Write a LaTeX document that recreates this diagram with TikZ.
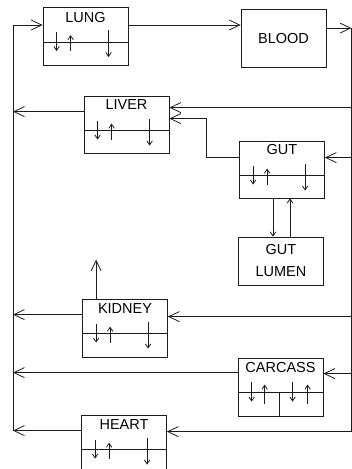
\documentclass[tikz,border=0pt]{standalone}
\usepackage{fontspec}
\setmainfont{Liberation Sans}
\usepackage{tikz}
\usetikzlibrary{calc,positioning,arrows.meta}
\usepackage{xcolor}
\definecolor{InkBlack}{HTML}{1C1C1C}
\tikzset{
  organ/.style={draw=InkBlack, line width=0.8pt, minimum width=85pt, minimum height=58pt, inner sep=0pt,
    font=\fontsize{14.5}{22}\selectfont},
  tag/.style={inner sep=0pt, font=\fontsize{14.5}{22}\selectfont},
  plainline/.style={draw=InkBlack, line width=0.8pt},
  flowline/.style={plainline, -{Straight Barb[length=10.5pt,width=10pt,line width=0.8pt]}},
  exch/.style={draw=InkBlack, line width=0.7pt, -{Straight Barb[length=4pt,width=5.5pt,line width=0.8pt]}},
}
% vascular / tissue split with exchange arrows
\newcommand{\splitbox}[1]{%
  \draw[plainline] ($(#1.north west)+(0,35)$) -- ($(#1.north east)+(0,35)$);
  \draw[exch] ($(#1.north west)+(14,25)$) -- ++(0,19);
  \draw[exch] ($(#1.north west)+(28,44)$) -- ++(0,-16);
  \draw[exch] ($(#1.north west)+(66,23)$) -- ++(0,27);
}

\begin{document}
\begin{tikzpicture}[x=1pt,y=-1pt]
  \clip (0,0) rectangle (352,469);
  % compartments
  \node[organ] (lung) at (85.5,36.5) {};
  \node[tag, below=5.5pt of lung.north] (lungtag) {LUNG};
  \node[organ] (blood) at (283.5,38.5) {BLOOD};
  \node[organ, minimum height=57pt] (liver) at (126.5,124.5) {};
  \node[tag, below=4pt of liver.north] (livertag) {LIVER};
  \node[organ, minimum height=57pt] (gut) at (282,169.5) {};
  \node[tag, below=4pt of gut.north] (guttag) {GUT};
  \node[organ, minimum height=48pt, align=center] (lumen) at (281,261) {GUT\\LUMEN};
  \node[organ] (kidney) at (125,328) {};
  \node[tag, below=5pt of kidney.north] (kidneytag) {KIDNEY};
  \node[organ] (carcass) at (280.5,387) {};
  \node[tag, below=5pt of carcass.north] (carcasstag) {CARCASS};
  \node[organ] (heart) at (124,444) {};
  \node[tag, below=5pt of heart.north] (hearttag) {HEART};
  % internal splits
  \splitbox{lung}
  \splitbox{liver}
  \splitbox{gut}
  \splitbox{kidney}
  \splitbox{heart}
  \draw[plainline] ($(carcass.north west)+(0,35)$) -- ($(carcass.north east)+(0,35)$);
  \draw[plainline] ($(carcass.north west)+(42,35)$) -- ($(carcass.south west)+(42,0)$);
  \draw[exch] ($(carcass.north west)+(14,24)$) -- ++(0,20);
  \draw[exch] ($(carcass.north west)+(27,46)$) -- ++(0,-19);
  \draw[exch] ($(carcass.north west)+(55,24)$) -- ++(0,20);
  \draw[exch] ($(carcass.north west)+(70,46)$) -- ++(0,-19);
  % venous return (left) and arterial supply (right)
  \coordinate (lbtop) at (13,25);
  \coordinate (lbbot) at ($(heart.north west)+(0,16)$);
  \coordinate (rbtop) at ($(blood.north east)+(25,19)$);
  \coordinate (rbbot) at ($(heart.north east)+(185,17)$);
  \draw[plainline] (lbtop) -- (lbtop |- lbbot);
  \draw[plainline] (rbtop) -- (rbtop |- rbbot);
  % lung - blood loop
  \draw[flowline] (lbtop) -- (lbtop -| lung.west);
  \draw[flowline] (lung.east |- lbtop) -- (blood.west |- lbtop);
  \draw[flowline] (blood.east |- rbtop) -- (rbtop);
  % outflows to the left
  \coordinate (liverout) at ($(liver.north west)+(0,16)$);
  \coordinate (kidneyout) at ($(kidney.north west)+(0,16)$);
  \coordinate (carcassout) at ($(carcass.north west)+(0,15)$);
  \draw[flowline] (liverout) -- (liverout -| lbtop);
  \draw[flowline] (kidneyout) -- (kidneyout -| lbtop);
  \draw[flowline] (carcassout) -- (carcassout -| lbtop);
  \draw[flowline] (lbbot) -- (lbbot -| lbtop);
  % inflows from the right
  \coordinate (liverin) at ($(liver.north east)+(0,12)$);
  \coordinate (gutin) at ($(gut.north east)+(0,17)$);
  \coordinate (kidneyin) at ($(kidney.north east)+(0,18)$);
  \coordinate (carcassin) at ($(carcass.north east)+(0,16)$);
  \draw[flowline] (rbtop |- liverin) -- (liverin);
  \draw[flowline] (rbtop |- gutin) -- (gutin);
  \draw[flowline] (rbtop |- kidneyin) -- (kidneyin);
  \draw[flowline] (rbtop |- carcassin) -- (carcassin);
  \draw[flowline] (rbtop |- rbbot) -- (rbbot -| heart.east);
  % portal flow gut -> liver
  \coordinate (gutout) at ($(gut.north west)+(0,17)$);
  \coordinate (portal) at ($(liver.north east)+(0,23)$);
  \draw[flowline] (gutout) -- ++(-33,0) |- (portal);
  % gut <-> lumen
  \draw[exch] ($(gut.south)+(-9,0)$) -- ($(lumen.north)+(-8,0)$);
  \draw[exch] ($(lumen.north)+(9,0)$) -- ($(gut.south)+(8,0)$);
  % urinary loss
  \coordinate (urine) at ($(kidney.north west)+(14,-39)$);
  \draw[flowline] (urine |- kidney.north) -- (urine);
\end{tikzpicture}
\end{document}
